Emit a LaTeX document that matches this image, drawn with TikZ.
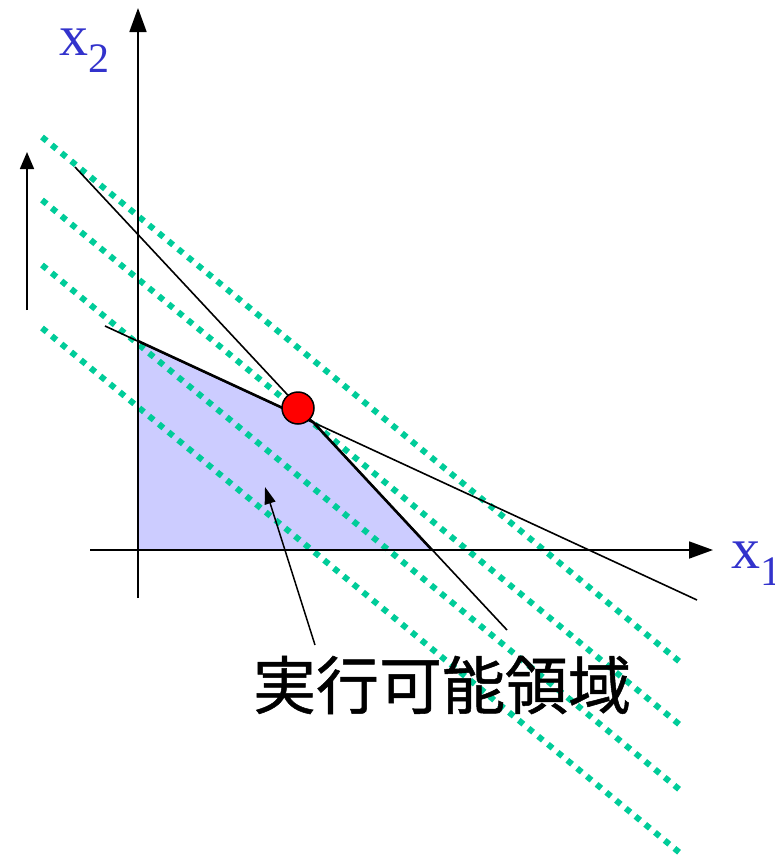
\documentclass[tikz,border=0pt]{standalone}
\usepackage{fontspec}
\setmainfont{Liberation Serif}
\newfontfamily\cjk[FakeBold=0.8]{Noto Sans CJK JP}
\usetikzlibrary{arrows.meta}
\definecolor{region}{HTML}{CCCCFF}
\definecolor{level}{HTML}{00CC99}
\definecolor{axislbl}{HTML}{3333CC}

\begin{document}
\begin{tikzpicture}[x=1pt, y=-1pt,
  ax/.style={-{Triangle[length=24pt, width=17pt]}, line width=1.8pt},
  cons/.style={line width=1.6pt},
  bnd/.style={line width=2.6pt, line join=round},
  lvl/.style={level, line width=6pt, dash pattern=on 6pt off 6.6pt},
  lbl/.style={text=axislbl, font=\fontsize{58}{60}\selectfont, inner sep=0pt, anchor=base west},
  ptr/.style={-{Triangle[length=17pt, width=11pt]}, line width=1.5pt}
]
\useasboundingbox (0,0) rectangle (775,860);
% corners of the feasible region
\coordinate (o) at (138,550);
\coordinate (a) at (138,341);
\coordinate (v) at (313,422);
\coordinate (b) at (432,550);
\fill[region] (o) -- (a) -- (v) -- (b) -- cycle;
% level lines of the objective
\foreach \s in {137,200,265,328}
  \draw[lvl] (42,\s) -- ++(638,525);
% constraints
\draw[cons] (75,167) -- (507,630);
\draw[cons] (105,326) -- (697,600);
\draw[bnd] (a) -- (v) -- (b);
% axes
\draw[ax] (90,550) -- (713,550);
\draw[ax] (138,598) -- (138,8);
\draw[-{Triangle[length=17pt, width=14pt]}, line width=1.8pt] (27,310) -- (27,152);
\node[lbl] (x2lbl) at (59,55) {x\raisebox{-17pt}{\fontsize{42}{44}\selectfont 2}};
\node[lbl] (x1lbl) at (731,568) {x\raisebox{-17pt}{\fontsize{42}{44}\selectfont 1}};
% optimum
\node[circle, draw, line width=1.5pt, fill=red, minimum size=32pt, inner sep=0pt] (opt) at (298,408) {};
% label of the region
\node[font=\cjk\fontsize{63}{66}\selectfont, inner sep=0pt] (feas) at (442,685) {実行可能領域};
\coordinate (from) at (315,645);
\coordinate (tip) at (265,487);
\draw[ptr] (from) -- (tip);
\end{tikzpicture}
\end{document}
